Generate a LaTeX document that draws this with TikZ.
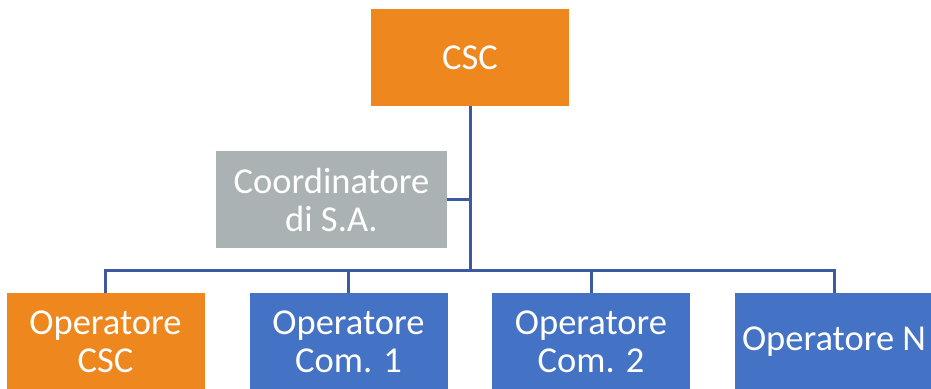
\documentclass[tikz,border=0pt]{standalone}
\usepackage{fontspec}
\setmainfont{Carlito}
\usepackage{tikz}
\definecolor{csc orange}{RGB}{237,135,30}
\definecolor{csc gray}{RGB}{170,178,180}
\definecolor{csc blue}{RGB}{68,114,196}
\definecolor{csc line}{RGB}{61,90,160}
\tikzset{
	box/.style={draw=none, text=white, align=center, inner sep=0pt,
		minimum width=198pt, minimum height=97pt,
		font=\fontsize{36.5}{38}\selectfont},
	link/.style={draw=csc line, line width=3pt}
}

\begin{document}
\begin{tikzpicture}[x=1pt, y=1pt]
	\useasboundingbox (0, 0) rectangle (931, 388);
	% boxes
	\node[box, fill=csc orange] (csc) at (470, 330.5) {CSC};
	\node[box, fill=csc gray, minimum width=231pt] (coord) at (331.5, 188.5) {Coordinatore\\di S.A.};
	\node[box, fill=csc orange] (opcsc) at (105.5, 46.5) {Operatore\\CSC};
	\node[box, fill=csc blue] (opone) at (348.5, 46.5) {Operatore\\Com. 1};
	\node[box, fill=csc blue] (optwo) at (591, 46.5) {Operatore\\Com. 2};
	\node[box, fill=csc blue] (opn) at (834, 46.5) {Operatore N};
	% connectors
	\coordinate (bus) at (470, 117);
	\draw[link] (csc.south) -- (bus);
	\draw[link] (coord.east) -- (coord.east -| csc.south);
	\draw[link] (opcsc.north) |- (bus);
	\draw[link] (opone.north) |- (bus);
	\draw[link] (optwo.north) |- (bus);
	\draw[link] (opn.north) |- (bus);
\end{tikzpicture}
\end{document}
